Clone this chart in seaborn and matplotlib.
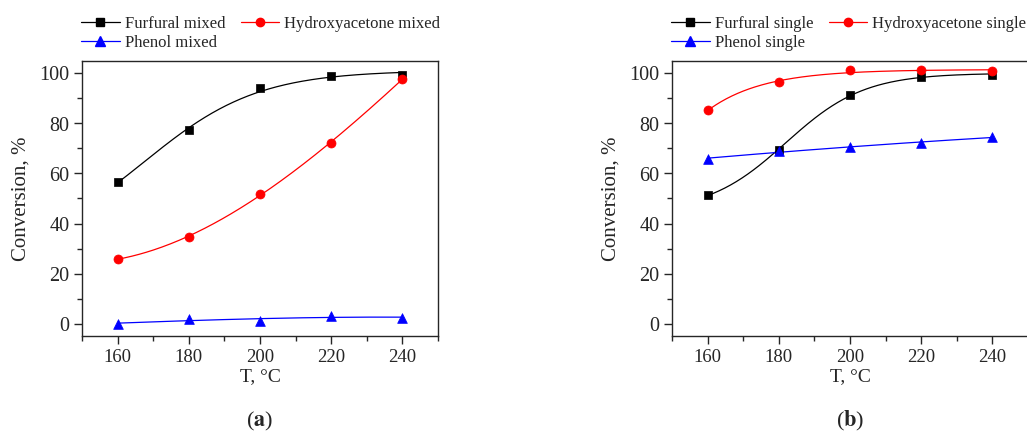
import matplotlib as mpl
mpl.use('Agg')
import numpy as np
import pandas as pd
import seaborn as sns
import matplotlib.pyplot as plt
from matplotlib.lines import Line2D
from matplotlib.ticker import MultipleLocator

temps = [160, 180, 200, 220, 240]

furfural_mixed = [56.5, 77.3, 94.3, 98.8, 99.4]
hydroxy_mixed = [25.8, 34.6, 51.8, 72.3, 97.8]
phenol_mixed = [0.0, 1.7, 1.1, 3.0, 2.4]

furfural_single = [51.3, 69.5, 91.3, 98.7, 99.5]
hydroxy_single = [85.2, 96.7, 101.2, 101.2, 101.0]
phenol_single = [65.9, 69.0, 70.5, 72.3, 74.6]

names = ['Furfural', 'Hydroxyacetone', 'Phenol']
colors = ['black', 'red', 'blue']
markers = ['s', 'o', '^']
msizes = [6, 6.5, 7]
# fit type per series: Boltzmann sigmoid (min width), exponential saturation or polynomial
fits_mixed = [('boltzmann', 16), ('poly', 3), ('poly', 3)]
fits_single = [('boltzmann', 11), ('expsat', 0), ('poly', 2)]


def boltzmann_fit(x, y, xs, dx_min):
    # grid search on x0/dx, linear least squares for the two plateaus
    best = None
    for x0 in np.linspace(120, 260, 281):
        for dx in np.linspace(dx_min, 60, 99):
            s = 1.0 / (1.0 + np.exp((x - x0) / dx))
            A = np.column_stack([s, 1 - s])
            coef, *_ = np.linalg.lstsq(A, y, rcond=None)
            err = np.sum((A @ coef - y) ** 2)
            if best is None or err < best[0]:
                best = (err, x0, dx, coef)
    _, x0, dx, (a1, a2) = best
    s = 1.0 / (1.0 + np.exp((xs - x0) / dx))
    return a1 * s + a2 * (1 - s)


def expsat_fit(x, y, xs):
    best = None
    for t in np.linspace(5, 80, 151):
        e = np.exp(-(x - x[0]) / t)
        A = np.column_stack([np.ones_like(x), e])
        coef, *_ = np.linalg.lstsq(A, y, rcond=None)
        err = np.sum((A @ coef - y) ** 2)
        if best is None or err < best[0]:
            best = (err, t, coef)
    _, t, (a, b) = best
    return a + b * np.exp(-(xs - x[0]) / t)


def smooth_curve(x, y, fit):
    kind, p = fit
    x = np.asarray(x, float)
    y = np.asarray(y, float)
    xs = np.linspace(x.min(), x.max(), 200)
    if kind == 'boltzmann':
        ys = boltzmann_fit(x, y, xs, p)
    elif kind == 'expsat':
        ys = expsat_fit(x, y, xs)
    else:
        ys = np.polyval(np.polyfit(x, y, p), xs)
    return pd.DataFrame({'T': xs, 'conv': ys})


sns.set_style('ticks')
plt.rcParams['font.family'] = ['Liberation Serif', 'DejaVu Serif']
plt.rcParams['mathtext.fontset'] = 'stix'

fig = plt.figure(figsize=(10.27, 4.36), dpi=100)
ax_a = fig.add_axes([82 / 1027, 1 - 336 / 436, 356 / 1027, 275 / 436])
ax_b = fig.add_axes([672 / 1027, 1 - 336 / 436, 356 / 1027, 275 / 436])

panels = [
    (ax_a, 'mixed', [furfural_mixed, hydroxy_mixed, phenol_mixed], fits_mixed, 'a'),
    (ax_b, 'single', [furfural_single, hydroxy_single, phenol_single], fits_single, 'b'),
]

for ax, kind, series, fits, letter in panels:
    handles = []
    for name, vals, c, m, ms, ft in zip(names, series, colors, markers, msizes, fits):
        df = pd.DataFrame({'T': temps, 'conv': vals})
        sns.lineplot(data=smooth_curve(temps, vals, ft), x='T', y='conv', ax=ax,
                     color=c, lw=0.9)
        sns.scatterplot(data=df, x='T', y='conv', ax=ax, color=c, marker=m,
                        s=ms ** 2, edgecolor=c, linewidth=0.5, zorder=3)
        handles.append(Line2D([], [], color=c, lw=0.9, marker=m, markersize=ms - 0.5,
                              label=f'{name} {kind}'))
    ax.set_xlim(150, 250)
    ax.set_ylim(-5, 105)
    ax.xaxis.set_major_locator(MultipleLocator(20))
    ax.xaxis.set_minor_locator(MultipleLocator(10))
    ax.yaxis.set_major_locator(MultipleLocator(20))
    ax.yaxis.set_minor_locator(MultipleLocator(10))
    ax.tick_params(which='major', direction='out', length=6, width=1, labelsize=14.5, pad=3)
    ax.tick_params(which='minor', direction='out', length=3.5, width=1)
    ax.tick_params(axis='x', labelsize=13.5)
    for sp in ax.spines.values():
        sp.set_linewidth(1)
        sp.set_visible(True)
    ax.set_xlabel('T, °C', fontsize=14, labelpad=2)
    ax.set_ylabel('Conversion, %', fontsize=15, labelpad=6)
    order = [handles[0], handles[2], handles[1]]
    ax.legend(handles=order, ncol=2, loc='lower left', bbox_to_anchor=(-0.03, 1.0),
              frameon=False, fontsize=12, handlelength=2.3, handletextpad=0.3,
              columnspacing=0.95, labelspacing=0.2, borderaxespad=0.2)
    ax.text(0.5, -0.31, '(' + r'$\mathbf{' + letter + '}$' + ')', transform=ax.transAxes,
            ha='center', va='center', fontsize=16)

fig.savefig('out.png', dpi=100)
